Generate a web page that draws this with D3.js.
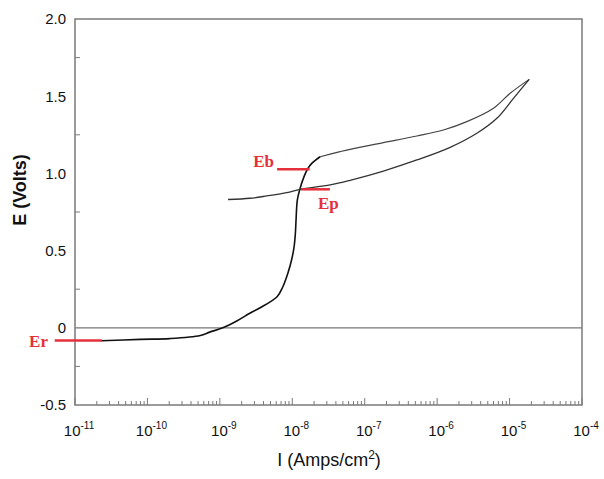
<!DOCTYPE html>
<html>
<head>
<meta charset="utf-8">
<script src="https://cdn.jsdelivr.net/npm/d3@7"></script>
<style>
  html, body { margin: 0; padding: 0; background: #fff; }
  svg { display: block; }
</style>
</head>
<body>
<svg id="chart" width="604" height="479"></svg>
<script>
// ---- data ----
// forward scan: log10(I) and E
const forwardLogI = [-10.64, -10.10, -9.69, -9.27, -9.14, -8.96, -8.76, -8.58, -8.45, -8.21, -8.13, -8.06, -8.01, -7.975, -7.957, -7.948, -7.93, -7.892, -7.847, -7.791, -7.731, -7.616, -7.34, -7.202, -6.742, -6.28, -5.913, -5.59, -5.222, -4.992, -4.729];
const forwardE    = [-0.084, -0.075, -0.070, -0.050, -0.028, 0.0, 0.046, 0.096, 0.128, 0.201, 0.266, 0.355, 0.439, 0.525, 0.614, 0.698, 0.828, 0.903, 0.968, 1.027, 1.065, 1.108, 1.141, 1.156, 1.199, 1.242, 1.281, 1.335, 1.422, 1.519, 1.609];
// reverse scan
const reverseLogI = [-4.729, -4.946, -5.175, -5.452, -5.82, -6.28, -6.742, -7.202, -7.478, -7.892, -8.076, -8.352, -8.583, -8.887];
const reverseE    = [1.609, 1.486, 1.357, 1.26, 1.169, 1.087, 1.015, 0.955, 0.925, 0.897, 0.875, 0.854, 0.839, 0.831];
// red markers
const markerNames = ["Er", "Eb", "Ep"];
const markerE     = [-0.083, 1.027, 0.897];
const markerFromLogI = [-11.28, -8.21, -7.88];
const markerToLogI   = [-10.63, -7.76, -7.48];
// axes
const yTickValues = [-0.5, 0, 0.5, 1.0, 1.5, 2.0];
const yTickLabels = ["-0.5", "0", "0.5", "1.0", "1.5", "2.0"];
const xDecades = [-11, -10, -9, -8, -7, -6, -5, -4];

// ---- drawing ----
const svg = d3.select("#chart");
const L = 75, R = 582, T = 19, B = 405;
const x = d3.scaleLog().domain([1e-11, 1e-4]).range([L, R]);
const y = d3.scaleLinear().domain([-0.5, 2.0]).range([B, T]);
const axisColor = "#7a7a7a";
const red = "#e5303c";

// zero line
svg.append("line").attr("x1", L).attr("x2", R).attr("y1", y(0)).attr("y2", y(0))
  .attr("stroke", "#777").attr("stroke-width", 1.2);

// frame
svg.append("rect").attr("x", L).attr("y", T).attr("width", R - L).attr("height", B - T)
  .attr("fill", "none").attr("stroke", axisColor).attr("stroke-width", 1.5);

// y minor ticks (inside)
const yMinor = d3.range(-0.25, 2.0, 0.5);
svg.selectAll(".ymin").data(yMinor).enter().append("line")
  .attr("x1", L).attr("x2", L + 5).attr("y1", d => y(d)).attr("y2", d => y(d))
  .attr("stroke", axisColor).attr("stroke-width", 1);

// x ticks (inside)
const xMinor = [];
xDecades.slice(0, -1).forEach(dec => { for (let k = 2; k <= 9; k++) xMinor.push(k * Math.pow(10, dec)); });
svg.selectAll(".xmin").data(xMinor).enter().append("line")
  .attr("x1", d => x(d)).attr("x2", d => x(d)).attr("y1", B).attr("y2", B - 4)
  .attr("stroke", axisColor).attr("stroke-width", 1);
svg.selectAll(".xmaj").data(xDecades).enter().append("line")
  .attr("x1", d => x(Math.pow(10, d))).attr("x2", d => x(Math.pow(10, d))).attr("y1", B).attr("y2", B - 7)
  .attr("stroke", axisColor).attr("stroke-width", 1);

// y tick labels
svg.selectAll(".ylab").data(yTickValues).enter().append("text")
  .attr("x", 66).attr("y", d => y(d)).attr("dy", "0.36em")
  .attr("text-anchor", "end").attr("font-family", "Liberation Sans, Arial, sans-serif")
  .attr("font-size", 15).attr("fill", "#111")
  .text((d, i) => yTickLabels[i]);

// x tick labels 10^n
const xl = svg.selectAll(".xlab").data(xDecades).enter().append("text")
  .attr("x", d => x(Math.pow(10, d)) + 4).attr("y", 436)
  .attr("text-anchor", "middle").attr("font-family", "Liberation Sans, Arial, sans-serif")
  .attr("font-size", 15).attr("fill", "#111");
xl.append("tspan").text("10");
xl.append("tspan").attr("dy", -7).attr("font-size", 10).text(d => "-" + Math.abs(d));

// axis titles
svg.append("text").attr("transform", "translate(26,190) rotate(-90)")
  .attr("text-anchor", "middle").attr("font-family", "Liberation Sans, Arial, sans-serif")
  .attr("font-size", 18).attr("font-weight", "bold").attr("fill", "#111").text("E (Volts)");
const xt = svg.append("text").attr("x", 329).attr("y", 466)
  .attr("text-anchor", "middle").attr("font-family", "Liberation Sans, Arial, sans-serif")
  .attr("font-size", 18).attr("fill", "#111");
xt.append("tspan").text("I (Amps/cm");
xt.append("tspan").attr("dy", -7).attr("font-size", 12).text("2");
xt.append("tspan").attr("dy", 7).text(")");

// curves
const line = d3.line().x(d => x(Math.pow(10, d[0]))).y(d => y(d[1])).curve(d3.curveCatmullRom.alpha(0.5));
const fwd = forwardLogI.map((v, i) => [v, forwardE[i]]);
const rev = reverseLogI.map((v, i) => [v, reverseE[i]]);
const splitIdx = 21;
svg.append("path").attr("d", line(fwd.slice(0, splitIdx + 1))).attr("fill", "none")
  .attr("stroke", "#111").attr("stroke-width", 1.6);
svg.append("path").attr("d", line(fwd.slice(splitIdx))).attr("fill", "none")
  .attr("stroke", "#444").attr("stroke-width", 1.2);
svg.append("path").attr("d", line(rev)).attr("fill", "none")
  .attr("stroke", "#333").attr("stroke-width", 1.3);

// red markers
svg.selectAll(".mk").data(markerNames).enter().append("line")
  .attr("x1", (d, i) => x(Math.pow(10, markerFromLogI[i])))
  .attr("x2", (d, i) => x(Math.pow(10, markerToLogI[i])))
  .attr("y1", (d, i) => y(markerE[i])).attr("y2", (d, i) => y(markerE[i]))
  .attr("stroke", red).attr("stroke-width", 2.5);

const labelPos = { Er: [48, 347, "end"], Eb: [274, 167, "end"], Ep: [318, 209, "start"] };
svg.selectAll(".mkl").data(markerNames).enter().append("text")
  .attr("x", d => labelPos[d][0]).attr("y", d => labelPos[d][1])
  .attr("text-anchor", d => labelPos[d][2])
  .attr("font-family", "Liberation Serif, Times New Roman, serif").attr("font-weight", "bold")
  .attr("font-size", 17).attr("fill", red).text(d => d);
</script>
</body>
</html>
